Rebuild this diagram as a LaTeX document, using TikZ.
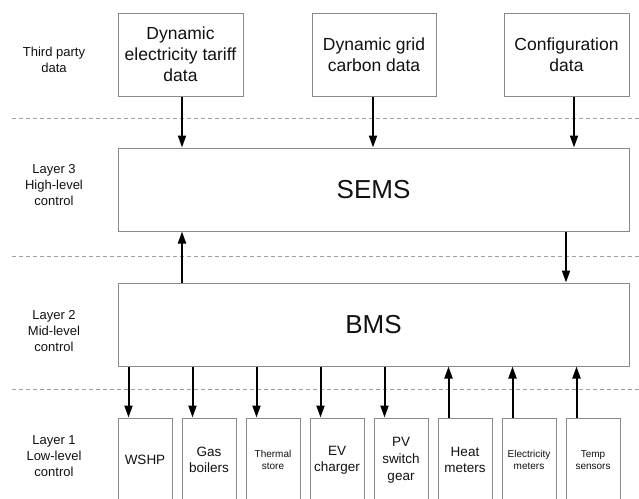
\documentclass[tikz,border=0pt]{standalone}
\usepackage{fontspec}
\setmainfont{Liberation Sans}
\usetikzlibrary{arrows.meta,calc}
\definecolor{boxgray}{HTML}{8A8A8A}
\definecolor{dashgray}{HTML}{A0A0A0}
\definecolor{txt}{HTML}{111111}
\tikzset{
  box/.style={draw=boxgray,line width=1pt,fill=white,text=txt,align=center,inner sep=0pt},
  topbox/.style={box,minimum width=125pt,minimum height=83pt,font=\fontsize{17.5}{21}\selectfont},
  bigbox/.style={box,minimum width=511pt,minimum height=83pt,font=\fontsize{26}{30}\selectfont},
  lowbox/.style={box,minimum width=54pt,minimum height=84pt,font=\fontsize{13.5}{15.5}\selectfont},
  tinybox/.style={lowbox,font=\fontsize{10}{12.7}\selectfont},
  layerlabel/.style={text=txt,align=center,font=\fontsize{13}{16}\selectfont},
  sep/.style={draw=dashgray,line width=1pt,dash pattern=on 4pt off 3pt},
  arr/.style={draw=black,line width=2pt,-{Triangle[length=12pt,width=8pt]}}
}
\begin{document}
\begin{tikzpicture}[x=1pt,y=-1pt]
\useasboundingbox (0,0) rectangle (639,498);
\clip (0,0) rectangle (639,498);
% separators
\coordinate (s1a) at (12,118); \coordinate (s1b) at (639,118);
\coordinate (s2a) at (12,256); \coordinate (s2b) at (639,256);
\coordinate (s3a) at (12,389); \coordinate (s3b) at (639,389);
\draw[sep] (s1a) -- (s1b);
\draw[sep] (s2a) -- (s2b);
\draw[sep] (s3a) -- (s3b);
% layer labels
\node[layerlabel] (l0) at (54,60) {Third party\\data};
\node[layerlabel] (l3) at (54,185) {Layer 3\\High-level\\control};
\node[layerlabel] (l2) at (54,331) {Layer 2\\Mid-level\\control};
\node[layerlabel] (l1) at (54,456) {Layer 1\\Low-level\\control};
% top boxes
\node[topbox] (t1) at (180.5,54.5) {Dynamic\\electricity tariff\\data};
\node[topbox,minimum width=124pt] (t2) at (374,54.5) {Dynamic grid\\carbon data};
\node[topbox] (t3) at (566.5,54.5) {Configuration\\data};
% big boxes
\node[bigbox] (sems) at (373.5,189.5) {SEMS};
\node[bigbox] (bms) at (373.5,324.5) {BMS};
% low boxes
\node[lowbox] (b1) at (145,460) {WSHP};
\node[lowbox] (b2) at (209,460) {Gas\\boilers};
\node[tinybox] (b3) at (273,460) {Thermal\\store};
\node[lowbox] (b4) at (337,460) {EV\\charger};
\node[lowbox,font=\fontsize{13.5}{17}\selectfont] (b5) at (401,460) {PV\\switch\\gear};
\node[lowbox] (b6) at (465,460) {Heat\\meters};
\node[tinybox] (b7) at (529,460) {Electricity\\meters};
\node[tinybox] (b8) at (593,460) {Temp\\sensors};
% arrows top -> SEMS
\coordinate (a1) at (182,0);
\coordinate (a2) at (373,0);
\coordinate (a3) at (574,0);
\draw[arr] (t1.south -| a1) -- (sems.north -| a1);
\draw[arr] (t2.south -| a2) -- (sems.north -| a2);
\draw[arr] (t3.south -| a3) -- (sems.north -| a3);
% SEMS <-> BMS
\coordinate (u1) at (182,0);
\coordinate (d1) at (566,0);
\draw[arr] (bms.north -| u1) -- (sems.south -| u1);
\draw[arr] (sems.south -| d1) -- (bms.north -| d1);
% BMS <-> low level
\foreach \b in {b1,b2,b3,b4,b5}{
  \coordinate (c\b) at ([xshift=11pt]\b.north west);
  \draw[arr] (bms.south -| c\b) -- (c\b);
}
\foreach \b in {b6,b7,b8}{
  \coordinate (c\b) at ([xshift=11pt]\b.north west);
  \draw[arr] (c\b) -- (bms.south -| c\b);
}
\end{tikzpicture}
\end{document}
